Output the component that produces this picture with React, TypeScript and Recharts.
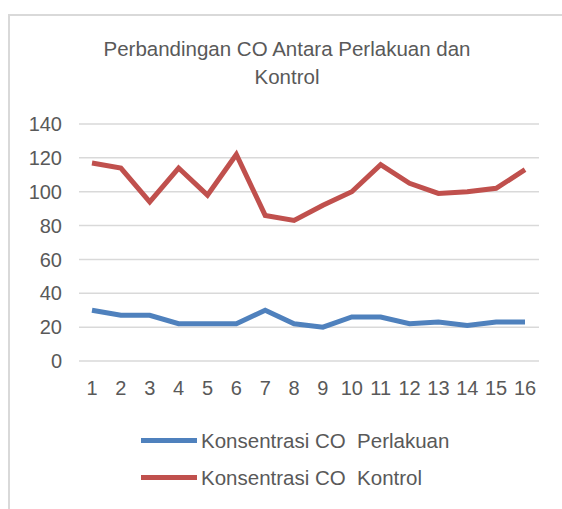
import React from 'react'
import { LineChart, Line, XAxis, YAxis, CartesianGrid, Legend } from 'recharts'

const days = ['1', '2', '3', '4', '5', '6', '7', '8', '9', '10', '11', '12', '13', '14', '15', '16']
const perlakuan = [30, 27, 27, 22, 22, 22, 30, 22, 20, 26, 26, 22, 23, 21, 23, 23]
const kontrol = [117, 114, 94, 114, 98, 122, 86, 83, 92, 100, 116, 105, 99, 100, 102, 113]
const yTicks = [0, 20, 40, 60, 80, 100, 120, 140]
const seriesOrder = ['perlakuan', 'kontrol']

const FONT = '"Liberation Sans", Arial, sans-serif'
const TEXT = '#595959'

const data = days.map((d, i) => ({ day: d, perlakuan: perlakuan[i], kontrol: kontrol[i] }))

function LegendBox({ payload }: any) {
  const items = [...(payload || [])].sort(
    (a: any, b: any) => seriesOrder.indexOf(a.dataKey) - seriesOrder.indexOf(b.dataKey)
  )
  return (
    <div>
      {items.map((p: any) => (
        <div key={p.value} style={{ display: 'flex', alignItems: 'center', height: 37 }}>
          <div style={{ width: 56, height: 5, background: p.color, marginRight: 4 }} />
          <span style={{ fontFamily: FONT, fontSize: 20.5, color: TEXT, whiteSpace: 'pre' }}>{p.value}</span>
        </div>
      ))}
    </div>
  )
}

export default function App() {
  return (
    <div style={{ position: 'absolute', left: 0, top: 0, width: 562, height: 509, overflow: 'hidden', background: '#fff' }}>
      <div
        style={{
          position: 'absolute',
          left: 8,
          top: 14,
          width: 600,
          height: 600,
          border: '2px solid #d9d9d9',
        }}
      />
      <div
        style={{
          position: 'absolute',
          left: 0,
          width: 574,
          top: 35,
          textAlign: 'center',
          fontFamily: FONT,
          fontSize: 20.5,
          lineHeight: '28px',
          color: TEXT,
        }}
      >
        Perbandingan CO Antara Perlakuan dan
        <br />
        Kontrol
      </div>
      <div style={{ position: 'absolute', left: 0, top: 0 }}>
        <LineChart width={562} height={509} data={data} margin={{ top: 124, right: 23, bottom: 118, left: 29 }}>
          <CartesianGrid vertical={false} stroke="#d9d9d9" strokeWidth={1.5} />
          <XAxis
            dataKey="day"
            axisLine={false}
            tickLine={false}
            tickMargin={14}
            interval={0}
            padding={{ left: 13, right: 14 }}
            tick={{ fill: TEXT, fontSize: 20, fontFamily: FONT }}
          />
          <YAxis
            width={50}
            domain={[0, 140]}
            ticks={yTicks}
            axisLine={false}
            tickLine={false}
            tickMargin={11}
            tick={{ fill: TEXT, fontSize: 20, fontFamily: FONT }}
          />
          <Legend
            layout="vertical"
            align="center"
            verticalAlign="middle"
            content={<LegendBox />}
            wrapperStyle={{ top: 422, left: 141, width: 400 }}
          />
          <Line
            type="linear"
            dataKey="perlakuan"
            name="Konsentrasi CO  Perlakuan"
            stroke="#4f81bd"
            strokeWidth={5}
            dot={false}
            isAnimationActive={false}
          />
          <Line
            type="linear"
            dataKey="kontrol"
            name="Konsentrasi CO  Kontrol"
            stroke="#c0504d"
            strokeWidth={5}
            dot={false}
            isAnimationActive={false}
          />
        </LineChart>
      </div>
    </div>
  )
}
